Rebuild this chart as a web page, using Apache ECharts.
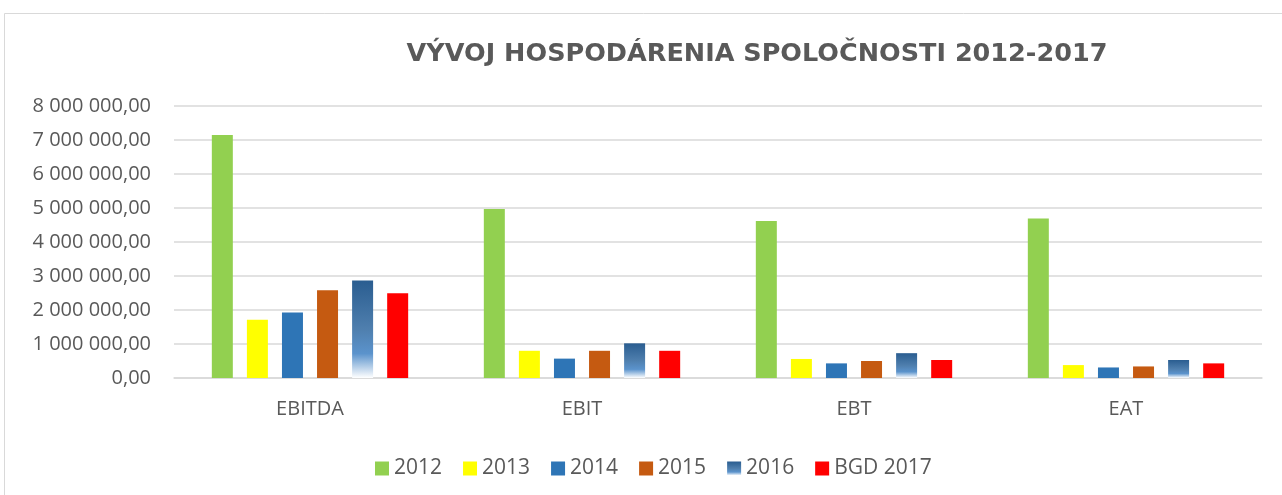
<!DOCTYPE html>
<html>
<head>
<meta charset="utf-8">
<script src="https://cdn.jsdelivr.net/npm/echarts@6/dist/echarts.min.js"></script>
<style>
  html, body { margin: 0; padding: 0; background: #fff; }
  #chart { width: 1282px; height: 495px; }
</style>
</head>
<body>
<div id="chart"></div>
<script>
const categories = ['EBITDA', 'EBIT', 'EBT', 'EAT'];
const seriesNames = ['2012', '2013', '2014', '2015', '2016', 'BGD 2017'];
const v2012 = [7150000, 4970000, 4620000, 4690000];
const v2013 = [1710000, 800000, 560000, 380000];
const v2014 = [1930000, 570000, 430000, 310000];
const v2015 = [2580000, 800000, 500000, 340000];
const v2016 = [2870000, 1020000, 730000, 530000];
const v2017 = [2490000, 800000, 530000, 430000];

const font = '"Open Sans", "DejaVu Sans", sans-serif';
const textColor = '#595959';

// 2016 bars fade from dark blue to white at the bottom
const grad2016 = new echarts.graphic.LinearGradient(0, 0, 0, 1, [
  { offset: 0, color: '#2a5d90' },
  { offset: 0.5, color: '#4f7fae' },
  { offset: 0.75, color: '#5b93cc' },
  { offset: 1, color: '#ffffff' }
]);

const fills = ['#92d050', '#ffff00', '#2e75b6', '#c55a11', grad2016, '#ff0000'];
const values = [v2012, v2013, v2014, v2015, v2016, v2017];

const fmt = (n) => {
  let s = Math.round(n).toString().replace(/\B(?=(\d{3})+(?!\d))/g, ' ');
  return s + ',00';
};

let chart = echarts.init(document.getElementById('chart'));
let option = {
  animation: false,
  backgroundColor: '#fff',
  graphic: [{
    type: 'rect',
    shape: { x: 4.5, y: 13.5, width: 1290, height: 500 },
    style: { fill: 'none', stroke: '#d9d9d9', lineWidth: 1 },
    silent: true
  }],
  title: {
    text: 'VÝVOJ HOSPODÁRENIA SPOLOČNOSTI 2012-2017',
    left: 752,
    textAlign: 'center',
    top: 36,
    textStyle: {
      color: textColor,
      fontSize: 25.5,
      fontWeight: 'bold',
      fontFamily: '"DejaVu Sans", sans-serif'
    }
  },
  legend: {
    left: 375,
    top: 458,
    padding: 0,
    itemWidth: 14,
    itemHeight: 14,
    itemGap: 21,
    icon: 'rect',
    textStyle: { color: textColor, fontSize: 21, fontFamily: font },
    data: seriesNames
  },
  grid: {
    left: 174,
    right: 20,
    top: 106,
    bottom: 117
  },
  xAxis: {
    type: 'category',
    data: categories,
    axisLine: { lineStyle: { color: '#d9d9d9', width: 1.5 } },
    axisTick: { show: false },
    axisLabel: { color: textColor, fontSize: 20, fontFamily: font, margin: 21 }
  },
  yAxis: {
    type: 'value',
    min: 0,
    max: 8000000,
    interval: 1000000,
    axisLine: { show: false },
    axisTick: { show: false },
    axisLabel: {
      color: textColor,
      fontSize: 20,
      fontFamily: font,
      margin: 23,
      formatter: fmt
    },
    splitLine: { lineStyle: { color: '#d9d9d9', width: 1.5 } }
  },
  series: seriesNames.map((name, i) => ({
    name: name,
    type: 'bar',
    barWidth: 21,
    barGap: '67%',
    itemStyle: { color: fills[i] },
    data: values[i]
  }))
};
chart.setOption(option);
</script>
</body>
</html>
